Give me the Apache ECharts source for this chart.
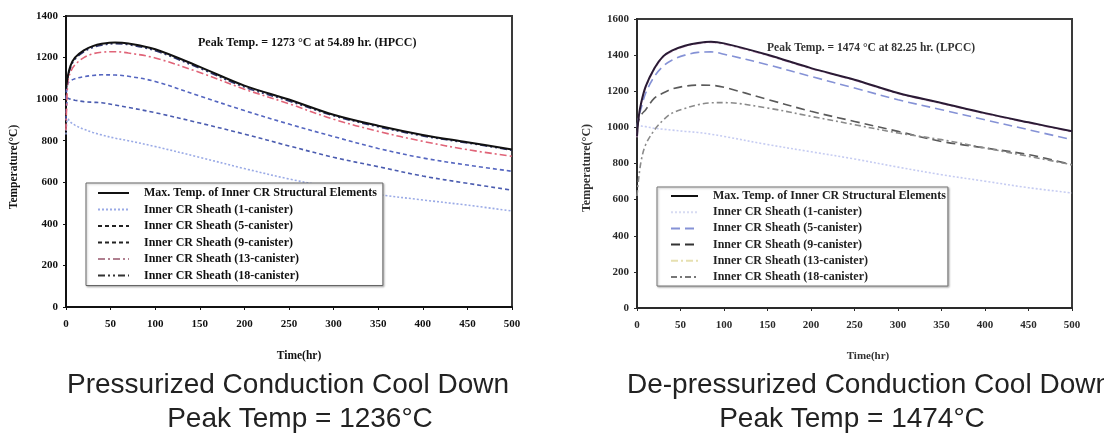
<!DOCTYPE html>
<html>
<head>
<meta charset="utf-8">
<script src="https://cdn.jsdelivr.net/npm/echarts@6/dist/echarts.min.js"></script>
<style>
html,body{margin:0;padding:0;background:#fff;}
#c{width:1104px;height:436px;}
</style>
</head>
<body>
<div id="c"></div>
<script>
// ---------- data ----------
var seriesNames = [
  'Max. Temp. of Inner CR Structural Elements',
  'Inner CR Sheath (1-canister)',
  'Inner CR Sheath (5-canister)',
  'Inner CR Sheath (9-canister)',
  'Inner CR Sheath (13-canister)',
  'Inner CR Sheath (18-canister)'
];
var xTicks = [0, 50, 100, 150, 200, 250, 300, 350, 400, 450, 500];
var yTicksL = [0, 200, 400, 600, 800, 1000, 1200, 1400];
var yTicksR = [0, 200, 400, 600, 800, 1000, 1200, 1400, 1600];

// Pressurized (HPCC)
var timeL = [0, 2, 5, 10, 20, 30, 40, 55, 70, 100, 150, 200, 250, 300, 350, 400, 450, 500];
var maxL  = [1050, 1110, 1160, 1200, 1235, 1255, 1266, 1273, 1268, 1240, 1155, 1065, 998, 925, 872, 828, 793, 758];
var c1L   = [830, 905, 890, 875, 855, 840, 828, 812, 800, 772, 720, 666, 616, 574, 541, 515, 490, 462];
var c5L   = [900, 1005, 1000, 995, 988, 985, 983, 972, 960, 935, 885, 832, 775, 720, 675, 630, 595, 562];
var c9L   = [1000, 1075, 1088, 1098, 1108, 1114, 1117, 1116, 1110, 1085, 1015, 945, 880, 820, 763, 717, 683, 653];
var c13L  = [850, 1080, 1130, 1165, 1200, 1218, 1226, 1228, 1222, 1198, 1128, 1048, 978, 903, 845, 797, 757, 725];
var c18L  = [1030, 1100, 1150, 1192, 1228, 1248, 1260, 1267, 1262, 1233, 1148, 1058, 991, 920, 867, 823, 789, 754];

// De-pressurized (LPCC)
var timeR = [0, 2, 5, 10, 20, 30, 40, 55, 70, 85, 100, 150, 200, 250, 300, 350, 400, 450, 500];
var maxR  = [950, 1060, 1140, 1227, 1328, 1393, 1425, 1452, 1467, 1474, 1465, 1402, 1328, 1264, 1190, 1135, 1079, 1028, 978];
var c1R   = [1015, 1012, 1008, 1004, 995, 990, 985, 978, 972, 962, 950, 905, 865, 825, 780, 738, 702, 666, 637];
var c5R   = [1000, 1060, 1110, 1190, 1282, 1338, 1372, 1400, 1415, 1418, 1405, 1347, 1282, 1218, 1153, 1098, 1042, 987, 932];
var c9R   = [1000, 1040, 1070, 1098, 1162, 1190, 1212, 1228, 1234, 1233, 1222, 1155, 1089, 1033, 978, 922, 886, 849, 793];
var c13R  = [945, 1055, 1135, 1222, 1323, 1388, 1420, 1448, 1463, 1470, 1461, 1398, 1325, 1261, 1187, 1132, 1076, 1025, 975];
var c18R  = [620, 720, 820, 905, 985, 1040, 1078, 1105, 1125, 1136, 1137, 1107, 1061, 1015, 969, 932, 886, 840, 793];

var annotL = 'Peak Temp. = 1273 °C at 54.89 hr. (HPCC)';
var annotR = 'Peak Temp. = 1474 °C at 82.25 hr. (LPCC)';
var captionL = ['Pressurized Conduction Cool Down', 'Peak Temp = 1236°C'];
var captionR = ['De-pressurized Conduction Cool Down', 'Peak Temp = 1474°C'];
var yTitle = 'Temperature(°C)';
var xTitle = 'Time(hr)';

// ---------- build ----------
function pairs(t, v) { return t.map(function (x, i) { return [x, v[i]]; }); }
var SERIF = '"Liberation Serif", "Times New Roman", serif';
var R_SUFFIX = '\u0000R';

var stylesL = [
  { color: '#111111', width: 2, type: 'solid', z: 5 },
  { color: '#9aaae6', width: 1.6, type: [2, 2], z: 3 },
  { color: '#4b5cb0', width: 1.6, type: [4, 3], z: 3 },
  { color: '#5566c0', width: 1.6, type: [4, 3], z: 3 },
  { color: '#e06478', width: 1.6, type: [7, 3, 2, 3], z: 3 },
  { color: '#2e3470', width: 1.6, type: [7, 3, 2, 3, 2, 3], z: 2 }
];
var stylesR = [
  { color: '#2a1a34', width: 2, type: 'solid', z: 5 },
  { color: '#c6ccf2', width: 1.6, type: [2, 2], z: 3 },
  { color: '#8592d6', width: 1.6, type: [9, 5], z: 3 },
  { color: '#5a5a5a', width: 1.6, type: [9, 5], z: 3 },
  { color: '#d8b0d0', width: 1.6, type: [7, 3, 2, 3], z: 2 },
  { color: '#8a8a8a', width: 1.6, type: [6, 3, 2, 3], z: 3 }
];
var legendColorsL = ['#111', '#9aaae6', '#222', '#222', '#b08090', '#333'];
var legendColorsR = ['#111', '#d8dcf2', '#8592d6', '#333', '#e6e0b0', '#777'];

var dataL = [maxL, c1L, c5L, c9L, c13L, c18L];
var dataR = [maxR, c1R, c5R, c9R, c13R, c18R];

var series = [];
seriesNames.forEach(function (n, i) {
  series.push({
    type: 'line', name: n, xAxisIndex: 0, yAxisIndex: 0,
    data: pairs(timeL, dataL[i]), symbol: 'none', smooth: 0.35, z: stylesL[i].z,
    lineStyle: { color: stylesL[i].color, width: stylesL[i].width, type: stylesL[i].type },
    itemStyle: { color: stylesL[i].color }, animation: false
  });
});
seriesNames.forEach(function (n, i) {
  series.push({
    type: 'line', name: n + R_SUFFIX, xAxisIndex: 1, yAxisIndex: 1,
    data: pairs(timeR, dataR[i]), symbol: 'none', smooth: 0.35, z: stylesR[i].z,
    lineStyle: { color: stylesR[i].color, width: stylesR[i].width, type: stylesR[i].type },
    itemStyle: { color: stylesR[i].color }, animation: false
  });
});

function plain(v) { return String(v); }
function xAxisCfg(gi, col) {
  return {
    type: 'value', gridIndex: gi,
    min: xTicks[0], max: xTicks[xTicks.length - 1], interval: xTicks[1] - xTicks[0],
    axisLine: { show: true, lineStyle: { color: col, width: 2 } },
    axisTick: { show: true, length: 3, lineStyle: { color: col } },
    splitLine: { show: false },
    axisLabel: { margin: 12, color: col, fontFamily: SERIF, fontWeight: 'bold', fontSize: 11, formatter: plain }
  };
}
function yAxisCfg(gi, ticks, col) {
  return {
    type: 'value', gridIndex: gi,
    min: ticks[0], max: ticks[ticks.length - 1], interval: ticks[1] - ticks[0],
    axisLine: { show: true, lineStyle: { color: col, width: 2 } },
    axisTick: { show: true, length: 3, lineStyle: { color: col } },
    splitLine: { show: false },
    axisLabel: { margin: 8, color: col, fontFamily: SERIF, fontWeight: 'bold', fontSize: 11, formatter: plain }
  };
}

function legendData(colors, suffix) {
  return seriesNames.map(function (n, i) {
    return { name: n + suffix, lineStyle: { color: colors[i] }, itemStyle: { color: colors[i], opacity: 0 } };
  });
}

function txt(x, y, text, font, fill, align, rot) {
  var el = {
    type: 'text', x: x, y: y, silent: true, z: 100,
    style: {
      text: text, font: font, fill: fill,
      align: align || 'center', verticalAlign: 'middle',
      textAlign: align || 'center', textVerticalAlign: 'middle'
    }
  };
  if (rot) el.rotation = rot;
  return el;
}

var option = {
  backgroundColor: '#ffffff',
  animation: false,
  grid: [
    { left: 66, top: 16, width: 446, height: 291, show: true, borderColor: '#3a3a3a', borderWidth: 2, backgroundColor: '#fff' },
    { left: 637, top: 19, width: 435, height: 289, show: true, borderColor: '#3a3a3a', borderWidth: 2, backgroundColor: '#fff' }
  ],
  xAxis: [xAxisCfg(0, '#111'), xAxisCfg(1, '#2a2a2a')],
  yAxis: [yAxisCfg(0, yTicksL, '#111'), yAxisCfg(1, yTicksR, '#2a2a2a')],
  legend: [
    {
      left: 86, top: 183, orient: 'vertical',
      data: legendData(legendColorsL, ''),
      itemWidth: 31, itemHeight: 12, itemGap: 4.5,
      padding: [4, 6, 4, 11],
      backgroundColor: '#fff', borderColor: '#666', borderWidth: 1,
      shadowColor: 'rgba(0,0,0,0.25)', shadowBlur: 2, shadowOffsetX: 1, shadowOffsetY: 1,
      selectedMode: false,
      textStyle: { fontFamily: SERIF, fontWeight: 'bold', fontSize: 12, color: '#111', padding: [0, 0, 0, 10] }
    },
    {
      left: 657, top: 187, orient: 'vertical',
      data: legendData(legendColorsR, R_SUFFIX),
      formatter: function (n) { return n.replace(R_SUFFIX, ''); },
      itemWidth: 27, itemHeight: 12, itemGap: 4.2,
      padding: [3, 2, 3, 13],
      backgroundColor: '#fff', borderColor: '#777', borderWidth: 1,
      shadowColor: 'rgba(0,0,0,0.3)', shadowBlur: 2, shadowOffsetX: 1, shadowOffsetY: 1,
      selectedMode: false,
      textStyle: { fontFamily: SERIF, fontWeight: 'bold', fontSize: 12, color: '#222', padding: [0, 0, 0, 10] }
    }
  ],
  graphic: [
    txt(198, 43, annotL, 'bold 12px ' + SERIF, '#111', 'left'),
    txt(767, 48, annotR, 'bold 11.5px ' + SERIF, '#333', 'left'),
    txt(14, 167, yTitle, 'bold 11.5px ' + SERIF, '#111', 'center', Math.PI / 2),
    txt(587, 168, yTitle, 'bold 12px ' + SERIF, '#333', 'center', Math.PI / 2),
    txt(299, 356, xTitle, 'bold 11.5px ' + SERIF, '#111', 'center'),
    txt(868, 356, xTitle, 'bold 11px ' + SERIF, '#333', 'center'),
    txt(288, 385, captionL[0], '28px "Liberation Sans", Arial, sans-serif', '#222', 'center'),
    txt(300, 419, captionL[1], '28px "Liberation Sans", Arial, sans-serif', '#222', 'center'),
    txt(627, 385, captionR[0], '28px "Liberation Sans", Arial, sans-serif', '#222', 'left'),
    txt(852, 419, captionR[1], '28px "Liberation Sans", Arial, sans-serif', '#222', 'center')
  ],
  series: series
};

var chart = echarts.init(document.getElementById('c'), null, { renderer: 'canvas' });
chart.setOption(option);
</script>
</body>
</html>
